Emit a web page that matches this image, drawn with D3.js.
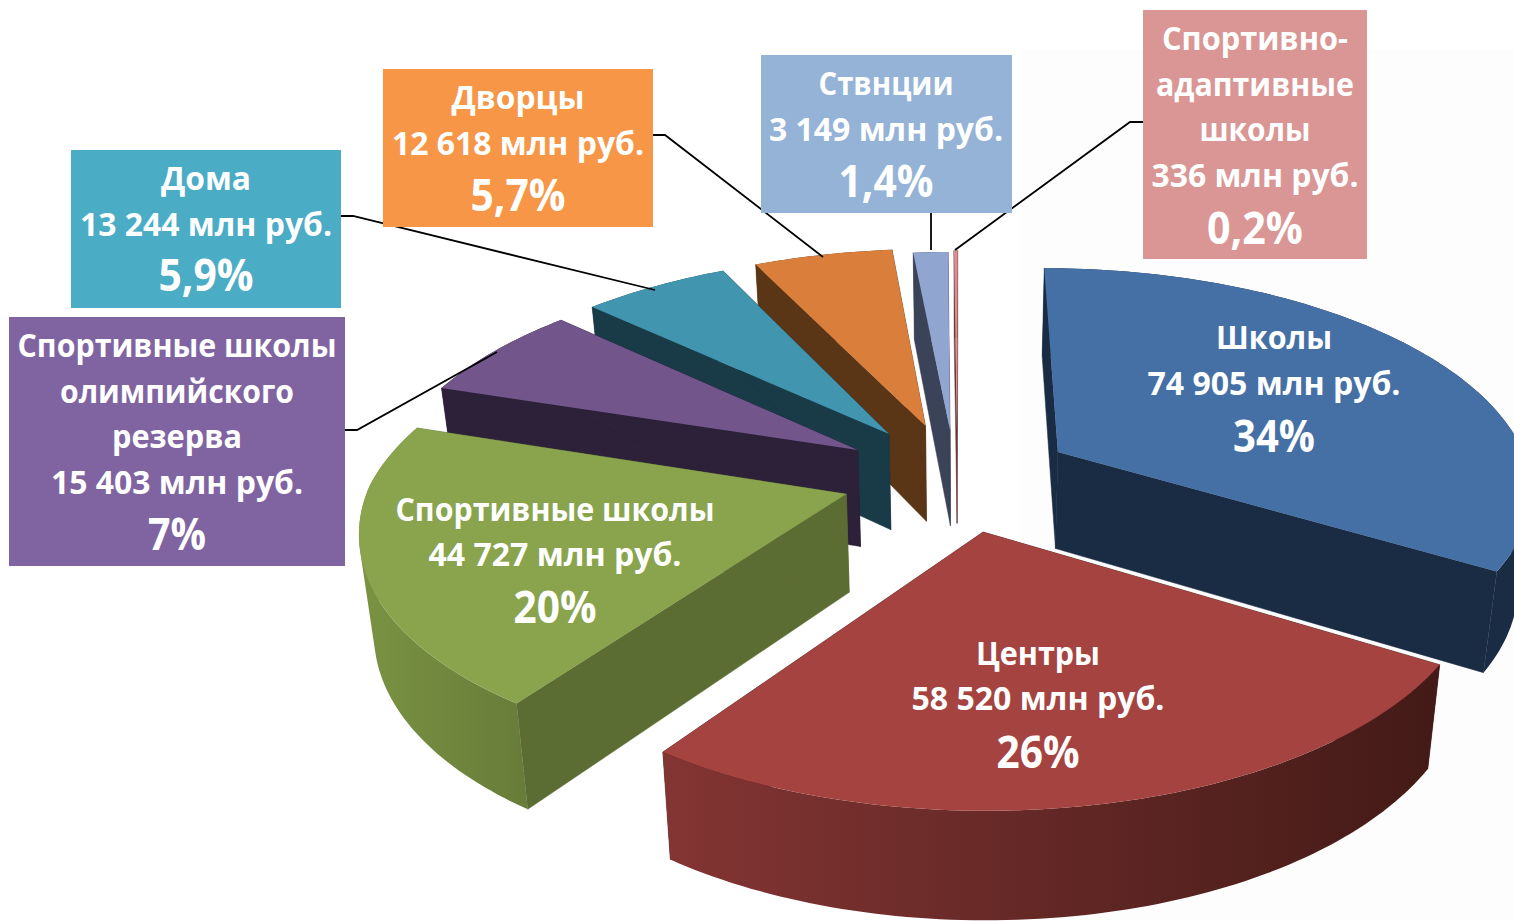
<!DOCTYPE html>
<html><head><meta charset="utf-8">
<script src="https://cdn.jsdelivr.net/npm/d3@7"></script>
<style>html,body{margin:0;padding:0;background:#fff;overflow:hidden}svg{display:block}
text{font-family:"Open Sans","Noto Sans",sans-serif;font-weight:700;fill:#fff;text-anchor:middle}</style>
</head><body><svg id="c" width="1514" height="921"></svg>
<script>
// ---- data
const categories = ["Школы","Центры","Спортивные школы","Спортивные школы олимпийского резерва","Дома","Дворцы","Ствнции","Спортивно-адаптивные школы"];
const values = [74905,58520,44727,15403,13244,12618,3149,336];
const amounts = ["74 905 млн руб.","58 520 млн руб.","44 727 млн руб.","15 403 млн руб.","13 244 млн руб.","12 618 млн руб.","3 149 млн руб.","336 млн руб."];
const percents = ["34%","26%","20%","7%","5,9%","5,7%","1,4%","0,2%"];

// ---- presentation
const explodeX = [0.206,0.043,-0.241,-0.224,-0.159,-0.08,-0.026,-0.011];
const explodeY = [-0.146,0.207,0.044,-0.155,-0.231,-0.27,-0.25,-0.26];
const topColors = ["#4570a6","#a54341","#89a44d","#72568b","#4195ae","#d97f3b","#90a5cf","#d98f8d"];
const cutColors = ["#1a2c44","#431a17","#5c6d33","#2c2139","#193b48","#5a3516","#3b4358","#6b3a3a"];
const wallStops = [["#1a2c44","#1a2c44"],["#833533","#431a17"],["#7a9342","#677c39"],["#2c2139","#2c2139"],["#193b48","#193b48"],["#5a3516","#5a3516"],["#3b4358","#3b4358"],["#6b3a3a","#6b3a3a"]];
const drawOrder = [7,6,5,4,3,2,0,1];
const boxColors = {3:"#8064a2",4:"#4bacc6",5:"#f79646",6:"#95b3d7",7:"#d99694"};
const labelLayout = {
 0:{x:1274,lines:[["Школы",349,32,116],[amounts[0],395,32,253],[percents[0],452,44,82]]},
 1:{x:1038,lines:[["Центры",665,32,124],[amounts[1],710,32,253],[percents[1],768,44,83]]},
 2:{x:555,lines:[["Спортивные школы",521,32,319],[amounts[2],566,32,253],[percents[2],623,44,83]]},
 3:{x:177,box:[9,317,336,249],lines:[["Спортивные школы",357,32,319],["олимпийского",403,32,234],["резерва",448,32,130],[amounts[3],494,32,252],[percents[3],550,44,58]]},
 4:{x:206,box:[71,150,270,158],lines:[["Дома",190,32,90],[amounts[4],236,32,252],[percents[4],291,44,95]]},
 5:{x:518,box:[383,69,270,158],lines:[["Дворцы",109,32,133],[amounts[5],155,32,252],[percents[5],211,44,95]]},
 6:{x:886,box:[761,55,251,158],lines:[["Ствнции",95,32,135],[amounts[6],141,32,234],[percents[6],197,44,95]]},
 7:{x:1255,box:[1143,10,224,249],lines:[["Спортивно-",50,32,186],["адаптивные",96,32,198],["школы",141,32,111],[amounts[7],187,32,207],[percents[7],244,44,96]]}
};
const leaders = [
 [[341,216],[353,216],[655,290]],
 [[653,135],[665,135],[823,257]],
 [[931,213],[931,250]],
 [[1143,122],[1130,122],[955,250]],
 [[345,430],[357,430],[497,352]]
];
const view = {cx:962,cy:484,rx:477,ry:225,kNear:0.14,kFar:0.17,depth:98,depthPow:0.6,conv:0.025};

const svg = d3.select("#c");
const defs = svg.append("defs");
svg.append("rect").attr("x",1020).attr("y",50).attr("width",494).attr("height",871).attr("fill","#fdfdfd");

const arcs = d3.pie().sort(null).startAngle(0).endAngle(2*Math.PI)(values);

function project(X,Y,z){
  const k = Y<0?view.kFar:view.kNear;
  const s = 1/(1-k*Y), f = 1-view.conv*z;
  return [view.cx+view.rx*X*s*f, view.cy+view.ry*Y*s+view.depth*z*Math.pow(s,view.depthPow)];
}
const line = d3.line();
const layer = svg.append("g");

drawOrder.forEach(i=>{
  const a = arcs.find(d=>d.index===i);
  const ox=explodeX[i], oy=explodeY[i];
  const steps=Math.max(4,Math.ceil((a.endAngle-a.startAngle)/0.02));
  const ts=d3.range(steps+1).map(j=>a.startAngle+(a.endAngle-a.startAngle)*j/steps);
  const rim=z=>ts.map(t=>project(ox+Math.sin(t),oy-Math.cos(t),z));
  const apex=z=>project(ox,oy,z);
  const g=layer.append("g");
  const top=rim(0),bot=rim(1);
  // cut faces
  [[top[0],bot[0]],[top[top.length-1],bot[bot.length-1]]].forEach(([t,b])=>{
    g.append("path").attr("d",line([apex(0),t,b,apex(1)])+"Z").attr("fill",cutColors[i]).attr("stroke",cutColors[i]).attr("stroke-width",.5);
  });
  // outer wall: strips with one winding in one path, so the silhouette stays continuous
  const id="w"+i, ext=d3.extent(top.concat(bot),p=>p[0]);
  const lg=defs.append("linearGradient").attr("id",id).attr("gradientUnits","userSpaceOnUse")
    .attr("x1",ext[0]).attr("x2",ext[1]).attr("y1",0).attr("y2",0);
  lg.append("stop").attr("offset","0%").attr("stop-color",wallStops[i][0]);
  lg.append("stop").attr("offset","100%").attr("stop-color",wallStops[i][1]);
  const wall=d3.range(steps).map(j=>{
    const q=[top[j],top[j+1],bot[j+1],bot[j]];
    if(d3.polygonArea(q)<0) q.reverse();
    return line(q)+"Z";
  }).join("");
  g.append("path").attr("d",wall).attr("fill-rule","nonzero").attr("fill",`url(#${id})`);
  // top face
  g.append("path").attr("d",line([apex(0)].concat(top))+"Z").attr("fill",topColors[i]);
});

leaders.forEach(l=>svg.append("path").attr("d",line(l)).attr("fill","none").attr("stroke","#000").attr("stroke-width",1.8));

categories.forEach((c,i)=>{
  const L=labelLayout[i];
  if(L.box) svg.append("rect").attr("x",L.box[0]).attr("y",L.box[1]).attr("width",L.box[2]).attr("height",L.box[3]).attr("fill",boxColors[i]);
  L.lines.forEach(t=>{
    svg.append("text").attr("x",L.x).attr("y",t[1]).attr("font-size",t[2]).attr("textLength",t[3]).attr("lengthAdjust","spacingAndGlyphs").text(t[0]);
  });
});
</script></body></html>
